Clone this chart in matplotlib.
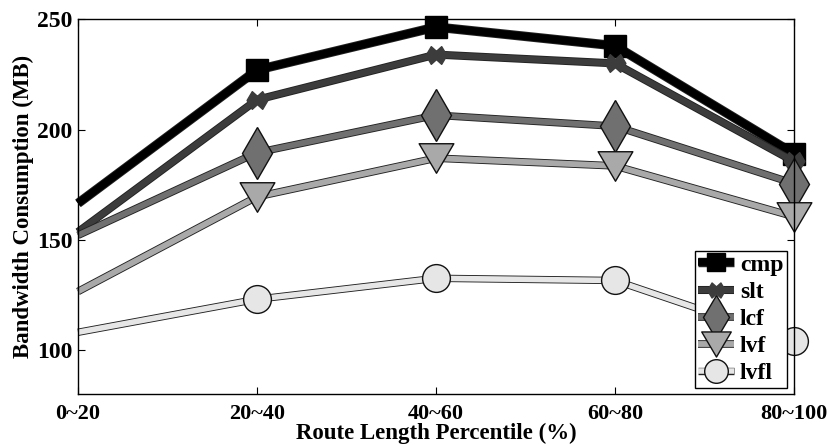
import matplotlib
matplotlib.use("Agg")
import matplotlib.pyplot as plt
import matplotlib.patheffects as pe
from matplotlib.path import Path
from matplotlib.legend_handler import HandlerTuple

# data
categories = ["0~20", "20~40", "40~60", "60~80", "80~100"]
cmp = [166.5, 227, 246.5, 238, 189]
slt = [153.5, 213.5, 234, 230, 185.5]
lcf = [152, 189.5, 206.5, 201.5, 175.5]
lvf = [126.5, 169.5, 187, 183.5, 160.5]
lvfl = [108, 123, 132.5, 131.5, 104]
names = ["cmp", "slt", "lcf", "lvf", "lvfl"]

# double-diamond marker for slt, wide triangle for lvf
bowtie = Path([(-1, 0), (-0.5, 0.85), (0, 0.4), (0.5, 0.85), (1, 0),
               (0.5, -0.85), (0, -0.4), (-0.5, -0.85), (-1, 0)],
              closed=True)
tri = Path([(-1, 0.85), (1, 0.85), (0, -0.85), (-1, 0.85)], closed=True)

styles = [
    ("#000000", "s", 16, 5.5, "#000000"),
    ("#3c3c3c", bowtie, 15, 4.5, "#3c3c3c"),
    ("#707070", "d", 26, 4.2, "#111111"),
    ("#a9a9a9", tri, 25, 4.2, "#111111"),
    ("#e6e6e6", "o", 20, 4.0, "#111111"),
]

plt.rcParams["font.family"] = ["Liberation Serif", "DejaVu Serif"]
plt.rcParams["font.weight"] = "bold"

fig = plt.figure(figsize=(8.28, 4.46), dpi=100)
ax = fig.add_axes([0.0942, 0.1166, 0.8647, 0.8401])

x = list(range(len(categories)))
handles = []
for name, vals, (col, mk, ms, lw, mec) in zip(names, [cmp, slt, lcf, lvf, lvfl], styles):
    ln, = ax.plot(x, vals, color=col, lw=lw, solid_capstyle="butt",
                  solid_joinstyle="miter", clip_on=False,
                  path_effects=[pe.Stroke(linewidth=lw + 1.3, foreground="#222222"),
                                pe.Normal()])
    mkr, = ax.plot(x[1:], vals[1:], ls="none", marker=mk, markersize=ms,
                   markerfacecolor=col, markeredgecolor=mec,
                   markeredgewidth=1.0, clip_on=False)
    handles.append((ln, mkr))

ax.set_xlim(0, 4)
ax.set_ylim(80, 250)
ax.set_xticks(x)
ax.set_xticklabels(categories)
ax.set_yticks([100, 150, 200, 250])
ax.tick_params(direction="in", length=5, width=0.8, top=True, right=True)
ax.tick_params(axis="x", pad=7, labelsize=16)
ax.tick_params(axis="y", pad=4, labelsize=17)
for lab in ax.get_xticklabels() + ax.get_yticklabels():
    lab.set_fontweight("bold")
for sp in ax.spines.values():
    sp.set_linewidth(1.0)

ax.set_xlabel("Route Length Percentile (%)", fontsize=16.5, fontweight="bold",
              labelpad=-1)
ax.set_ylabel("Bandwidth Consumption (MB)", fontsize=16.5, fontweight="bold",
              labelpad=2)

leg = ax.legend(handles, names,
                handler_map={tuple: HandlerTuple(ndivide=1, pad=0)},
                loc="lower right", bbox_to_anchor=(0.99, 0.016),
                borderaxespad=0, fancybox=False, edgecolor="black",
                framealpha=1, prop={"size": 17, "weight": "bold"},
                handlelength=1.5, handletextpad=0.25, labelspacing=0.24,
                borderpad=0.15, markerscale=0.85)
leg.get_frame().set_linewidth(1.0)
leg.set_zorder(5)

fig.savefig("out.png", dpi=100)
